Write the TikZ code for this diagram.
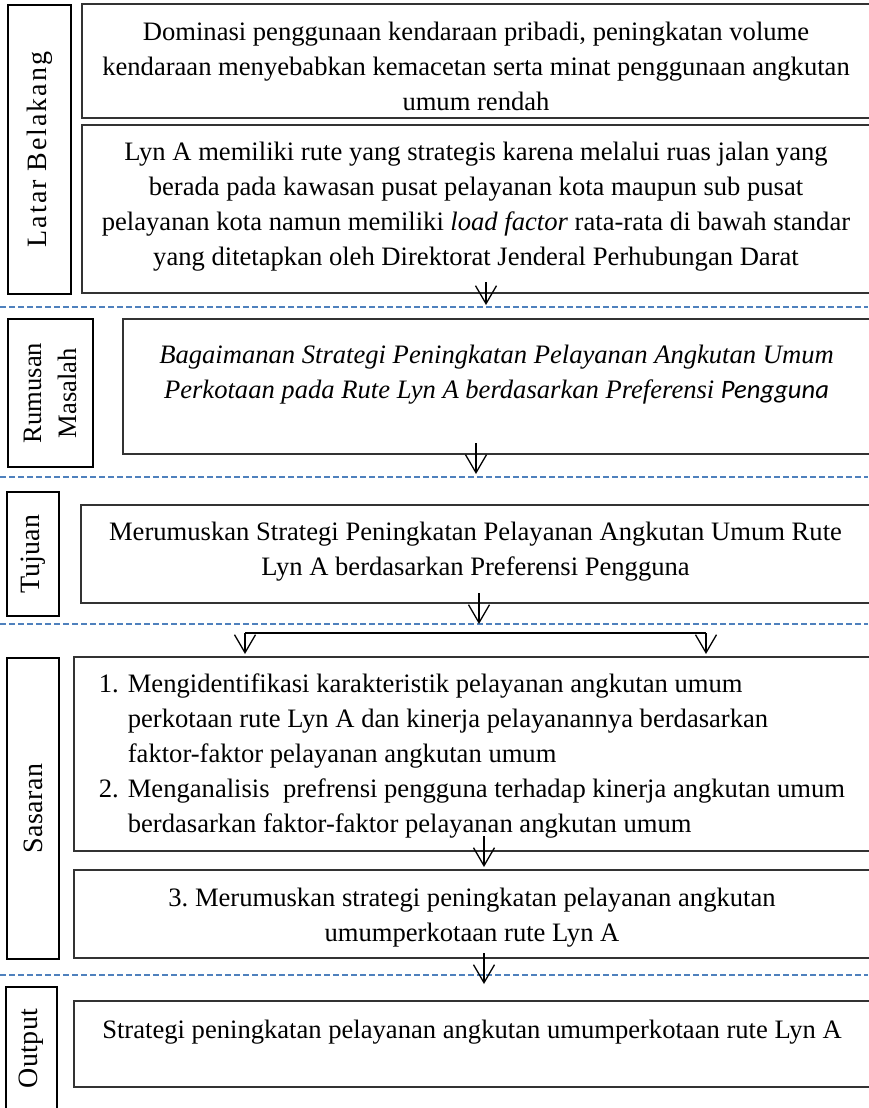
\documentclass[tikz,border=0pt]{standalone}
\usepackage{fontspec}
\setmainfont{Liberation Serif}
\newfontfamily\calfont{Carlito}
\usetikzlibrary{arrows.meta}
\definecolor{sepblue}{HTML}{4F81BD}
\newcommand{\bodyfont}{\fontsize{13.3pt}{17.5pt}\selectfont}
\newcommand{\sidefont}{\fontsize{14pt}{17.5pt}\selectfont}

\begin{document}
\begin{tikzpicture}[x=0.5pt, y=-0.5pt,
  every node/.style={font=\bodyfont},
  frame/.style={draw=black!80, line width=0.7pt, inner sep=0pt, align=center},
  side/.style={draw=black, line width=0.8pt, inner sep=0pt, rotate=90, align=center, font=\sidefont},
  arr/.style={-{Straight Barb[length=9pt,width=10.5pt]}, line width=0.65pt},
  bar/.style={line width=1.1pt},
  sep/.style={draw=sepblue, line width=0.7pt, dash pattern=on 3pt off 1.5pt}]
\useasboundingbox (0,0) rectangle (868,1108);

% latar belakang
\node[side, minimum width=144.5pt, minimum height=31.5pt] (latar) at (39.5,149.5)
  {\addfontfeature{LetterSpace=7}Latar Belakang};
\node[frame, minimum width=394pt, minimum height=57pt, text height=53pt, text depth=4pt] (dominasi) at (476,61)
  {Dominasi penggunaan kendaraan pribadi, peningkatan volume\\
   kendaraan menyebabkan kemacetan serta minat penggunaan angkutan\\
   umum rendah};
\node[frame, minimum width=394pt, minimum height=84pt, text height=70pt, text depth=14pt] (lyn) at (476,209)
  {Lyn A memiliki rute yang strategis karena melalui ruas jalan yang\\
   berada pada kawasan pusat pelayanan kota maupun sub pusat\\
   pelayanan kota namun memiliki \textit{load factor} rata-rata di bawah standar\\
   yang ditetapkan oleh Direktorat Jenderal Perhubungan Darat};

% rumusan masalah
\node[side, minimum width=74pt, minimum height=42.5pt, font=\bodyfont] (rumusan) at (50.5,393) {Rumusan\\Masalah};
\node[frame, minimum width=373.5pt, minimum height=67.5pt, text height=39.5pt, text depth=28pt,
  font=\bodyfont\itshape] (masalah) at (496.5,386.5)
  {Bagaimanan Strategi Peningkatan Pelayanan Angkutan Umum\\
   Perkotaan pada Rute Lyn A berdasarkan Preferensi {\calfont Pengguna}};

% tujuan
\node[side, minimum width=62pt, minimum height=26pt] (tujuan) at (33,554) {Tujuan};
\node[frame, minimum width=394.5pt, minimum height=49pt, text height=35pt, text depth=14pt] (tuj) at (475.5,554)
  {Merumuskan Strategi Peningkatan Pelayanan Angkutan Umum Rute\\
   Lyn A berdasarkan Preferensi Pengguna};

% sasaran
\node[side, minimum width=150.5pt, minimum height=26pt] (sasaran) at (33,808.5)
  {\addfontfeature{LetterSpace=2}Sasaran};
\node[frame, minimum width=398pt, minimum height=97pt, text height=17.5pt, text depth=79.5pt] (sas1) at (472,754)
  {\begin{tabular}[t]{@{}r@{\hspace{4.5pt}}l@{}}
   1. & Mengidentifikasi karakteristik pelayanan angkutan umum\\
      & perkotaan rute Lyn A dan kinerja pelayanannya berdasarkan\\
      & faktor-faktor pelayanan angkutan umum\\
   2. & Menganalisis\ \ prefrensi pengguna terhadap kinerja angkutan umum\\
      & berdasarkan faktor-faktor pelayanan angkutan umum
   \end{tabular}};
\node[frame, minimum width=398pt, minimum height=44pt, text height=35.5pt, text depth=8.5pt] (sas2) at (472,914)
  {3.\ Merumuskan strategi peningkatan pelayanan angkutan\\
   umumperkotaan rute Lyn A};

% output
\node[side, minimum width=61.5pt, minimum height=25.5pt] (output) at (31.5,1048.5)
  {\addfontfeature{LetterSpace=1}Output};
\node[frame, minimum width=398pt, minimum height=43pt, text height=18.5pt, text depth=24.5pt] (strategi) at (472,1044)
  {Strategi peningkatan pelayanan angkutan umumperkotaan rute Lyn A};

% garis pemisah
\foreach \y in {307,477,624,975}
  \draw[sep] (0,\y) -- (868,\y);

% panah
\coordinate (a1s) at (486,282);  \coordinate (a1e) at (486,305);
\coordinate (a2s) at (476,443);  \coordinate (a2e) at (476,474);
\coordinate (a3s) at (479,593);  \coordinate (a3e) at (479,624);
\coordinate (bl) at (245,633);   \coordinate (br) at (706,633);
\coordinate (ble) at (245,654);  \coordinate (bre) at (706,654);
\coordinate (a4s) at (484,836);  \coordinate (a4e) at (484,867);
\coordinate (a5s) at (484,953);  \coordinate (a5e) at (484,984);
\draw[arr] (a1s) -- (a1e);
\draw[arr] (a2s) -- (a2e);
\draw[arr] (a3s) -- (a3e);
\draw[bar] (bl) -- (br);
\draw[arr] (bl) -- (ble);
\draw[arr] (br) -- (bre);
\draw[arr] (a4s) -- (a4e);
\draw[arr] (a5s) -- (a5e);
\end{tikzpicture}
\end{document}
